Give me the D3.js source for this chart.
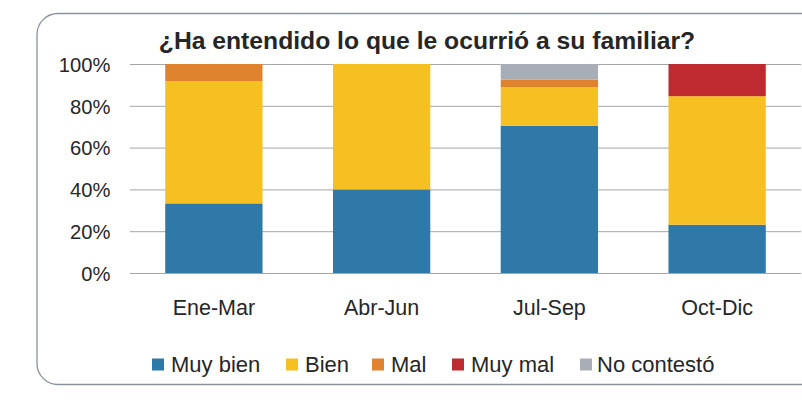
<!DOCTYPE html>
<html>
  <head>
    <meta charset="utf-8">
    <title>¿Ha entendido lo que le ocurrió a su familiar?</title>
    <script src="https://d3js.org/d3.v7.min.js"></script>
    <style>
      body { margin: 0; background: #fff; }
      svg { display: block; font-family: "Liberation Sans", Arial, sans-serif; }
      .axis .domain { display: none; }
      .axis .tick line { stroke: #a6a6a6; stroke-width: 1px; }
      .axis--y .tick text { font-size: 20.2px; fill: #262626; }
      .axis--x .tick text { font-size: 21.5px; fill: #262626; }
      .title { font-size: 24.7px; font-weight: bold; fill: #262626; text-anchor: middle; }
      .legend text { font-size: 22px; fill: #262626; }
    </style>
  </head>
  <body>
    <svg width="802" height="406"></svg>
    <script>
      // data (percent)
      const categories = ["Ene-Mar", "Abr-Jun", "Jul-Sep", "Oct-Dic"];
      const seriesNames = ["Muy bien", "Bien", "Mal", "Muy mal", "No contestó"];
      const muyBien = [33.3, 40, 70.4, 23.1];
      const bien = [58.4, 60, 18.5, 61.5];
      const mal = [8.3, 0, 3.7, 0];
      const muyMal = [0, 0, 0, 15.4];
      const noContesto = [0, 0, 7.4, 0];
      const yTicks = [0, 20, 40, 60, 80, 100];
      const colors = ["#2e79a8", "#f6c022", "#e0832f", "#be2a2f", "#a8aeb5"];

      const svg = d3.select("svg");
      const margin = {top: 64, right: 1, bottom: 133, left: 130};
      const width = +svg.attr("width");
      const height = +svg.attr("height");
      const innerWidth = width - margin.left - margin.right;
      const innerHeight = height - margin.top - margin.bottom;

      // frame, open on the right side
      const fx = 37, fy = 13.5, fb = 384.5, r = 21;
      svg.append("path")
        .attr("d", `M${width},${fy} H${fx + r} A${r},${r} 0 0 0 ${fx},${fy + r} V${fb - r} A${r},${r} 0 0 0 ${fx + r},${fb} H${width}`)
        .attr("fill", "none")
        .attr("stroke", "#8b929b")
        .attr("stroke-width", 1.3);

      const table = categories.map((c, i) => ({
        cat: c,
        "Muy bien": muyBien[i],
        "Bien": bien[i],
        "Mal": mal[i],
        "Muy mal": muyMal[i],
        "No contestó": noContesto[i]
      }));
      const stacked = d3.stack().keys(seriesNames)(table);

      const g = svg.append("g")
        .attr("transform", `translate(${margin.left}, ${margin.top})`);

      const xScale = d3.scaleBand()
        .domain(categories)
        .range([0, innerWidth])
        .paddingInner(0.42)
        .paddingOuter(0.21);
      const yScale = d3.scaleLinear()
        .domain([0, 100])
        .range([innerHeight, 0]);

      const yAxis = d3.axisLeft(yScale)
        .tickValues(yTicks)
        .tickFormat(d => d + "%")
        .tickSize(-innerWidth)
        .tickPadding(19.5);
      const yAxisG = g.append("g").attr("class", "axis axis--y").call(yAxis)
        .attr("font-size", null)
        .attr("font-family", null);
      yAxisG.selectAll(".tick text").attr("dy", "0.36em");
      yAxisG.selectAll(".tick").filter(d => d === 0).select("line").attr("stroke", "#959595");

      const xAxis = d3.axisBottom(xScale).tickSize(0).tickPadding(27);
      g.append("g").attr("class", "axis axis--x")
        .attr("transform", `translate(0, ${innerHeight})`)
        .call(xAxis)
        .attr("font-size", null)
        .attr("font-family", null);

      g.selectAll(".layer")
        .data(stacked)
        .enter().append("g")
          .attr("class", "layer")
          .attr("fill", (d, i) => colors[i])
        .selectAll("rect")
        .data(d => d)
        .enter().append("rect")
          .attr("x", d => xScale(d.data.cat))
          .attr("width", xScale.bandwidth())
          .attr("y", d => yScale(d[1]))
          .attr("height", d => yScale(d[0]) - yScale(d[1]));

      svg.append("text")
        .attr("class", "title")
        .attr("x", 427)
        .attr("y", 48.5)
        .text("¿Ha entendido lo que le ocurrió a su familiar?");

      // legend
      const legendX = [152, 286, 372, 452, 580];
      const legend = svg.append("g").attr("class", "legend");
      const items = legend.selectAll("g")
        .data(seriesNames)
        .enter().append("g")
          .attr("transform", (d, i) => `translate(${legendX[i]}, 358.5)`);
      items.append("rect")
        .attr("width", 12)
        .attr("height", 12)
        .attr("fill", (d, i) => colors[i]);
      items.append("text")
        .attr("x", d => d === "No contestó" ? 17 : 19)
        .attr("y", 13.5)
        .text(d => d);
    </script>
  </body>
</html>
